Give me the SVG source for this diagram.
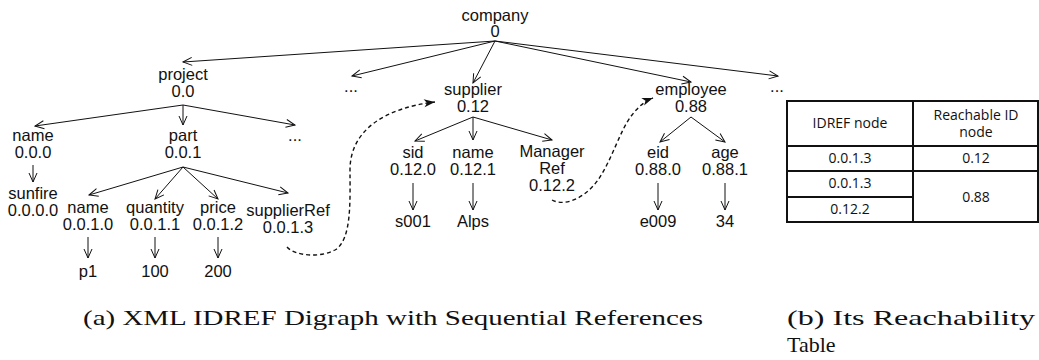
<svg xmlns="http://www.w3.org/2000/svg" width="1039" height="360" viewBox="0 0 1039 360">
  <style>
    .lbl { font-family: "Liberation Sans", Arial, sans-serif; font-size: 16.5px; fill: #111; text-anchor: middle; }
    .edge { stroke: #111; stroke-width: 1; fill: none; marker-end: url(#open); }
    .ref { stroke: #111; stroke-width: 1.4; fill: none; stroke-dasharray: 4 3; marker-end: url(#solid); }
    .tbl { stroke: #111; stroke-width: 2; fill: none; }
    .cell { font-family: "Open Sans", "Liberation Sans", sans-serif; font-size: 14px; fill: #111; text-anchor: middle; }
    .cap { font-family: "Liberation Serif", "Times New Roman", serif; font-size: 22px; fill: #111; }
  </style>
  <defs>
    <marker id="open" markerWidth="12" markerHeight="10" refX="0" refY="0" viewBox="-10 -5 12 10" orient="auto" markerUnits="userSpaceOnUse">
      <path d="M-9,-4 L0,0 L-9,4" fill="none" stroke="#111" stroke-width="1"/>
    </marker>
    <marker id="solid" markerWidth="14" markerHeight="10" refX="0" refY="0" viewBox="-12 -5 14 10" orient="auto" markerUnits="userSpaceOnUse">
      <path d="M-11,-4 L0,0 L-11,4 L-8,0 Z" fill="#111"/>
    </marker>
  </defs>
  <rect width="1039" height="360" fill="#fff"/>

  <!-- tree edges and IDREF links -->
  <g id="connectors">
    <line class="edge" x1="495" y1="41" x2="183" y2="62"/>
    <line class="edge" x1="495" y1="41" x2="352" y2="76"/>
    <line class="edge" x1="495" y1="41" x2="473" y2="83"/>
    <line class="edge" x1="495" y1="41" x2="691" y2="82"/>
    <line class="edge" x1="495" y1="41" x2="778" y2="76"/>

    <line class="edge" x1="183" y1="105" x2="35" y2="126"/>
    <line class="edge" x1="183" y1="105" x2="183" y2="125"/>
    <line class="edge" x1="183" y1="105" x2="295" y2="125"/>

    <line class="edge" x1="33" y1="165" x2="33" y2="182"/>

    <line class="edge" x1="183" y1="167" x2="89" y2="195"/>
    <line class="edge" x1="183" y1="167" x2="155" y2="199"/>
    <line class="edge" x1="183" y1="167" x2="218" y2="199"/>
    <line class="edge" x1="183" y1="167" x2="288" y2="193"/>

    <line class="edge" x1="88" y1="237" x2="88" y2="258"/>
    <line class="edge" x1="155" y1="237" x2="155" y2="258"/>
    <line class="edge" x1="218" y1="237" x2="218" y2="258"/>

    <line class="edge" x1="473" y1="117" x2="415" y2="141"/>
    <line class="edge" x1="473" y1="117" x2="473" y2="140"/>
    <line class="edge" x1="473" y1="117" x2="552" y2="140"/>
    <line class="edge" x1="413" y1="183" x2="413" y2="210"/>
    <line class="edge" x1="473" y1="183" x2="473" y2="210"/>

    <line class="edge" x1="691" y1="117" x2="660" y2="142"/>
    <line class="edge" x1="691" y1="117" x2="725" y2="142"/>
    <line class="edge" x1="658" y1="183" x2="658" y2="210"/>
    <line class="edge" x1="725" y1="183" x2="725" y2="210"/>

    <path class="ref" d="M287,247 C295,256 320,258 335,250 C352,240 350,200 350,170 C350,130 385,108 435,102"/>
    <path class="ref" d="M552,200 C565,207 585,198 598,180 C612,160 620,130 632,115 C638,107 645,101 653,98"/>
  </g>

  <g id="company"><text class="lbl" x="495" y="21">company</text><text class="lbl" x="495" y="37">0</text></g>
  <g id="project"><text class="lbl" x="183" y="80">project</text><text class="lbl" x="183" y="97">0.0</text></g>
  <g id="more-1"><text class="lbl" x="351" y="92">...</text></g>
  <g id="supplier"><text class="lbl" x="473" y="95">supplier</text><text class="lbl" x="473" y="112">0.12</text></g>
  <g id="employee"><text class="lbl" x="691" y="95">employee</text><text class="lbl" x="691" y="112">0.88</text></g>
  <g id="more-2"><text class="lbl" x="777" y="92">...</text></g>

  <g id="name-000"><text class="lbl" x="33" y="141">name</text><text class="lbl" x="33" y="158">0.0.0</text></g>
  <g id="part"><text class="lbl" x="183" y="141">part</text><text class="lbl" x="183" y="158">0.0.1</text></g>
  <g id="more-3"><text class="lbl" x="295" y="141">...</text></g>
  <g id="sunfire"><text class="lbl" x="33" y="199">sunfire</text><text class="lbl" x="33" y="216">0.0.0.0</text></g>

  <g id="name-0010"><text class="lbl" x="88" y="213">name</text><text class="lbl" x="88" y="230">0.0.1.0</text></g>
  <g id="quantity"><text class="lbl" x="155" y="213">quantity</text><text class="lbl" x="155" y="230">0.0.1.1</text></g>
  <g id="price"><text class="lbl" x="218" y="213">price</text><text class="lbl" x="218" y="230">0.0.1.2</text></g>
  <g id="supplierRef"><text class="lbl" x="288" y="216">supplierRef</text><text class="lbl" x="288" y="233">0.0.1.3</text></g>
  <g id="p1"><text class="lbl" x="88" y="277">p1</text></g>
  <g id="v100"><text class="lbl" x="155" y="277">100</text></g>
  <g id="v200"><text class="lbl" x="218" y="277">200</text></g>

  <g id="sid"><text class="lbl" x="413" y="158">sid</text><text class="lbl" x="413" y="175">0.12.0</text></g>
  <g id="name-0121"><text class="lbl" x="473" y="158">name</text><text class="lbl" x="473" y="175">0.12.1</text></g>
  <g id="managerRef"><text class="lbl" x="552" y="157">Manager</text><text class="lbl" x="552" y="174">Ref</text><text class="lbl" x="552" y="191">0.12.2</text></g>
  <g id="s001"><text class="lbl" x="413" y="227">s001</text></g>
  <g id="alps"><text class="lbl" x="473" y="227">Alps</text></g>

  <g id="eid"><text class="lbl" x="658" y="158">eid</text><text class="lbl" x="658" y="175">0.88.0</text></g>
  <g id="age"><text class="lbl" x="725" y="158">age</text><text class="lbl" x="725" y="175">0.88.1</text></g>
  <g id="e009"><text class="lbl" x="658" y="227">e009</text></g>
  <g id="v34"><text class="lbl" x="725" y="227">34</text></g>

  <!-- reachability table -->
  <g id="table">
    <rect class="tbl" x="787" y="101" width="251" height="121"/>
    <line class="tbl" x1="913" y1="101" x2="913" y2="222"/>
    <line class="tbl" x1="787" y1="146" x2="1038" y2="146"/>
    <line class="tbl" x1="787" y1="171" x2="1038" y2="171"/>
    <line class="tbl" x1="787" y1="197" x2="913" y2="197"/>
    <text class="cell" x="850" y="128">IDREF node</text>
    <text class="cell" x="976" y="120">Reachable ID</text>
    <text class="cell" x="976" y="137">node</text>
    <text class="cell" x="850" y="163">0.0.1.3</text>
    <text class="cell" x="976" y="163">0.12</text>
    <text class="cell" x="850" y="188">0.0.1.3</text>
    <text class="cell" x="850" y="214">0.12.2</text>
    <text class="cell" x="976" y="202">0.88</text>
  </g>

  <g id="captions">
    <text class="cap" x="83" y="325" textLength="620" lengthAdjust="spacingAndGlyphs">(a) XML IDREF Digraph with Sequential References</text>
    <text class="cap" x="787" y="325" textLength="248" lengthAdjust="spacingAndGlyphs">(b)  Its  Reachability</text>
    <text class="cap" x="787" y="352">Table</text>
  </g>
</svg>
